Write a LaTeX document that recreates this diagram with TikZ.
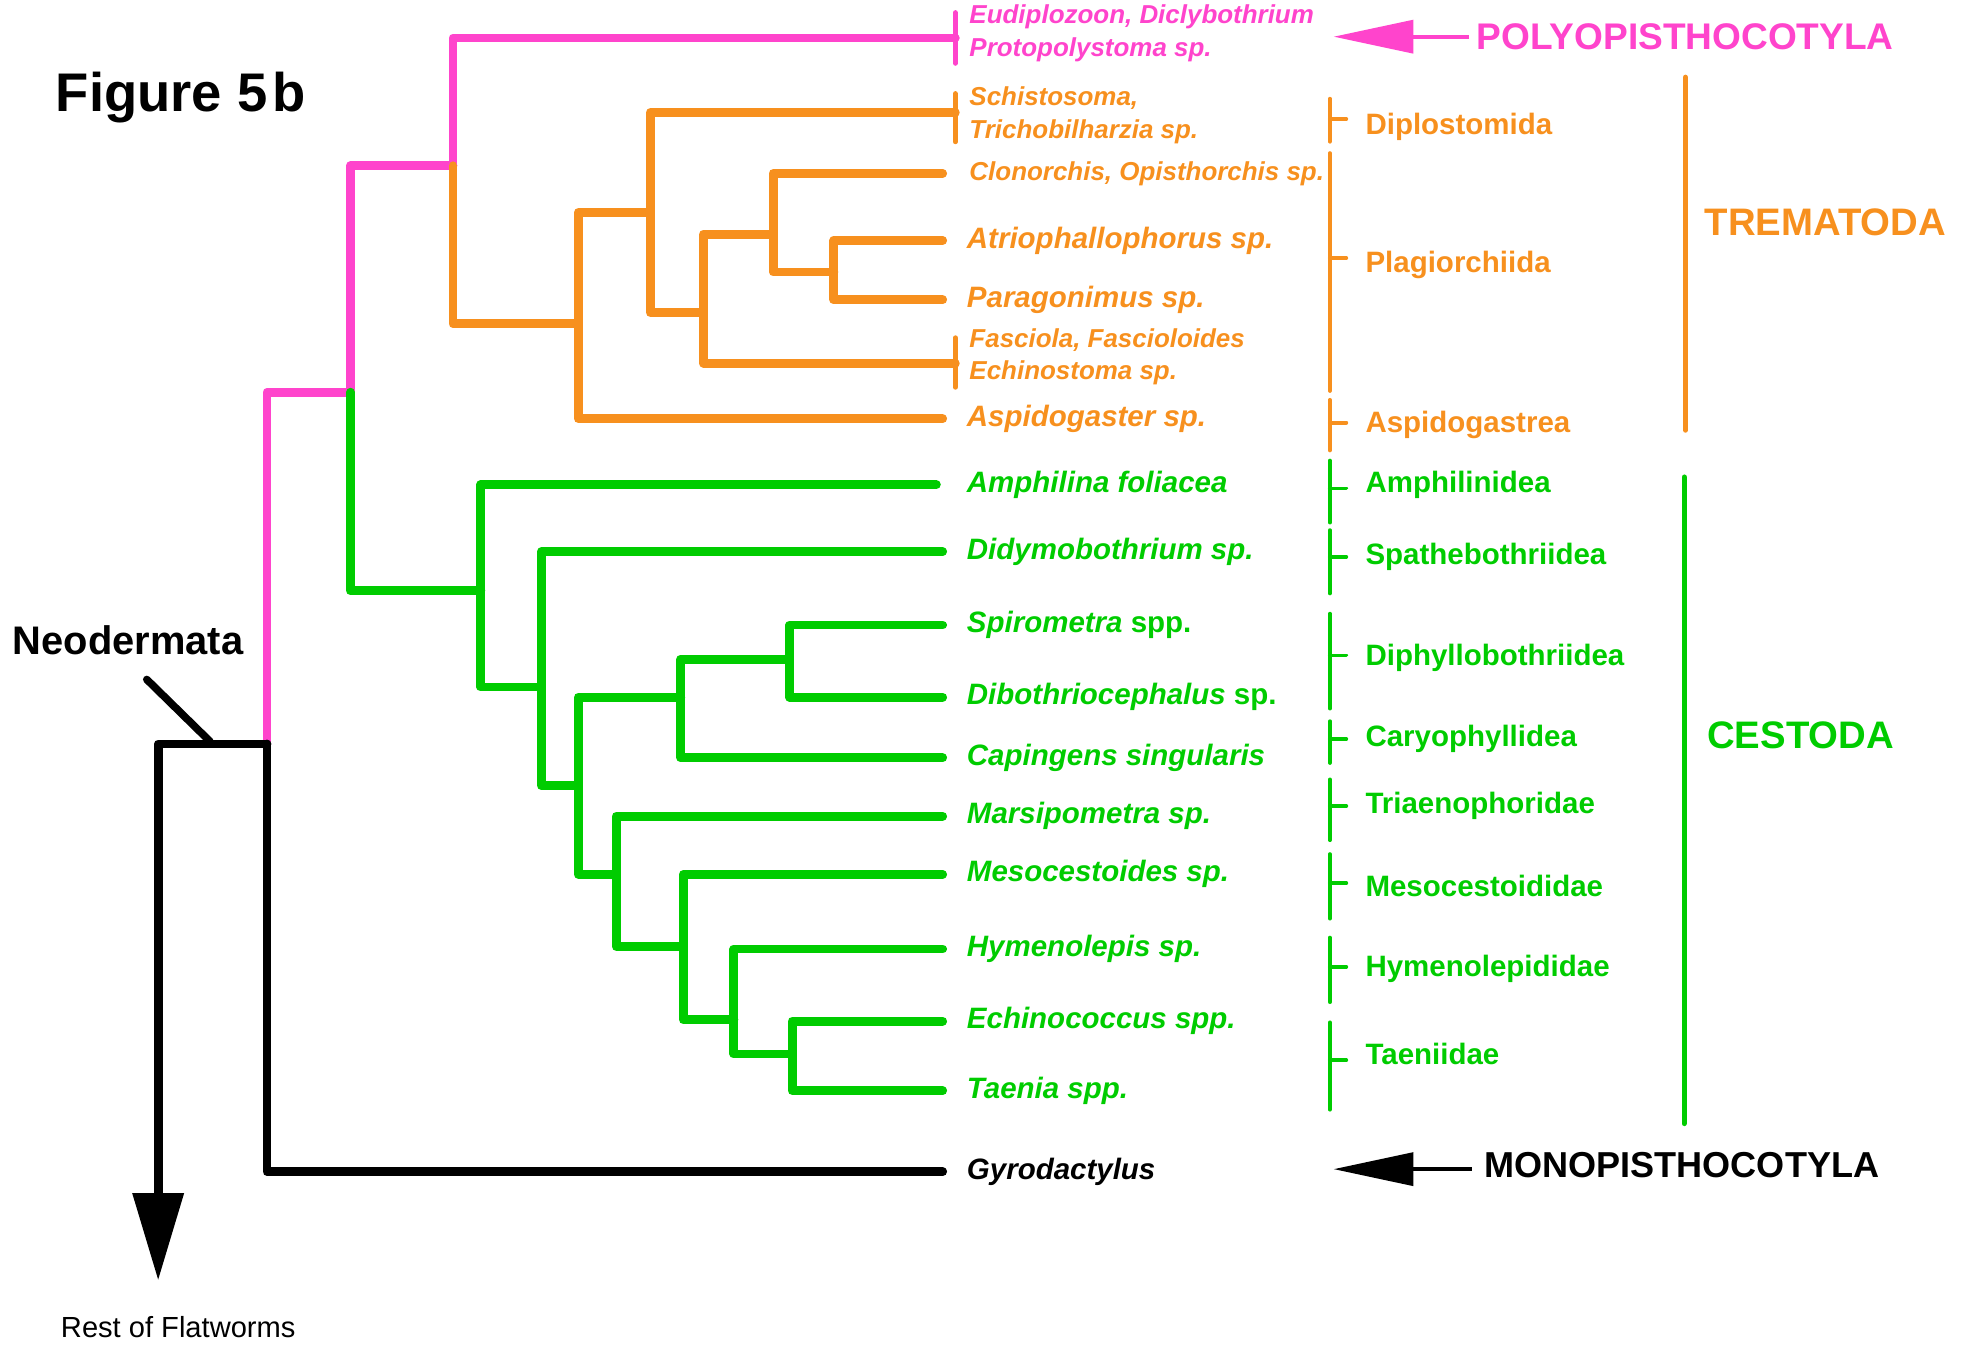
\documentclass[tikz,border=0pt]{standalone}
\usepackage{fontspec}
\setmainfont{Liberation Sans}
\usetikzlibrary{positioning, arrows.meta}

\definecolor{polypink}{RGB}{255,68,204}
\definecolor{tremorange}{RGB}{247,144,30}
\definecolor{cestgreen}{RGB}{0,204,0}

\tikzset{
  branch/.style={line width=7pt, line cap=round, line join=round},
  endbar/.style={line width=4pt, line cap=round},
  ordbar/.style={line width=3pt, line cap=round},
  taxon/.style={inner sep=0pt, font=\fontsize{23.3pt}{27pt}\selectfont\bfseries\itshape},
  smalltaxon/.style={inner sep=0pt, align=left, font=\fontsize{20.5pt}{26pt}\selectfont\bfseries\itshape},
  order/.style={inner sep=0pt, font=\fontsize{23.3pt}{27pt}\selectfont\bfseries},
  clade/.style={inner sep=0pt, font=\fontsize{30.3pt}{34pt}\selectfont\bfseries},
}

\begin{document}
\begin{tikzpicture}[x=1pt, y=-1pt]
\useasboundingbox (0,0) rectangle (1568,1067);

% inner nodes of the tree
\coordinate (stem) at (125,588);
\coordinate (N) at (211,588);
\coordinate (P) at (277,310);
\coordinate (Q) at (358,131);
\coordinate (T) at (457,256);
\coordinate (T1) at (514,168);
\coordinate (T2) at (556,247);
\coordinate (T3) at (611,185);
\coordinate (T4) at (659,215);
\coordinate (C) at (380,467);
\coordinate (C1) at (428,543);
\coordinate (C2) at (457,621);
\coordinate (C3) at (538,551);
\coordinate (C5) at (624,521);
\coordinate (C4) at (487,691);
\coordinate (C6) at (540,748);
\coordinate (C7) at (580,806);
\coordinate (C8) at (626,833);
\coordinate (rest) at (125,1012);

% leaves
\coordinate (l-eud) at (755,30);
\coordinate (l-schis) at (755,89);
\coordinate (l-clon) at (745,137);
\coordinate (l-atrio) at (745,190);
\coordinate (l-parag) at (745,237);
\coordinate (l-fasc) at (755,287);
\coordinate (l-aspi) at (745,331);
\coordinate (l-amph) at (740,383);
\coordinate (l-didy) at (745,436);
\coordinate (l-spir) at (745,494);
\coordinate (l-dibo) at (745,551);
\coordinate (l-capi) at (745,599);
\coordinate (l-mars) at (745,645);
\coordinate (l-meso) at (745,691);
\coordinate (l-hyme) at (745,750);
\coordinate (l-echi) at (745,807);
\coordinate (l-taen) at (745,862);
\coordinate (l-gyro) at (745,926);

% branches
\draw[branch, polypink] (N) |- (P) (P) |- (Q) (Q) |- (l-eud);
\draw[branch] (N) |- (l-gyro);
\draw[branch, -{Triangle[length=69pt,width=39pt]}] (N) -- (stem) -- (rest);
\draw[branch, tremorange] (Q) |- (T) (T) |- (T1) (T) |- (l-aspi)
    (T1) |- (l-schis) (T1) |- (T2) (T2) |- (T3) (T2) |- (l-fasc)
    (T3) |- (l-clon) (T3) |- (T4) (T4) |- (l-atrio) (T4) |- (l-parag);
\draw[branch, cestgreen] (P) |- (C) (C) |- (l-amph) (C) |- (C1)
    (C1) |- (l-didy) (C1) |- (C2) (C2) |- (C3) (C2) |- (C4)
    (C3) |- (C5) (C3) |- (l-capi) (C5) |- (l-spir) (C5) |- (l-dibo)
    (C4) |- (l-mars) (C4) |- (C6) (C6) |- (l-meso) (C6) |- (C7)
    (C7) |- (l-hyme) (C7) |- (C8) (C8) |- (l-echi) (C8) |- (l-taen);

% bars at the ends of grouped leaves
\draw[endbar, polypink] ([yshift=20pt]l-eud) -- ([yshift=-20pt]l-eud);
\draw[endbar, tremorange] ([yshift=15pt]l-schis) -- ([yshift=-23pt]l-schis);
\draw[endbar, tremorange] ([yshift=20pt]l-fasc) -- ([yshift=-19pt]l-fasc);

% leaf labels
\node[smalltaxon, polypink, right=11pt of l-eud, yshift=3.5pt] (t-eud)
    {Eudiplozoon, Diclybothrium\\Protopolystoma sp.};
\node[smalltaxon, tremorange, right=11pt of l-schis, yshift=-2pt] (t-schis)
    {Schistosoma,\\Trichobilharzia sp.};
\node[smalltaxon, tremorange, right=21pt of l-clon] (t-clon)
    {Clonorchis, Opisthorchis sp.};
\node[taxon, tremorange, right=19pt of l-atrio] (t-atrio) {Atriophallophorus sp.};
\node[taxon, tremorange, right=19pt of l-parag] (t-parag) {Paragonimus sp.};
\node[smalltaxon, tremorange, right=11pt of l-fasc, yshift=5pt] (t-fasc)
    {Fasciola, Fascioloides\\Echinostoma sp.};
\node[taxon, tremorange, right=19pt of l-aspi] (t-aspi) {Aspidogaster sp.};
\node[taxon, cestgreen, right=24pt of l-amph] (t-amph) {Amphilina foliacea};
\node[taxon, cestgreen, right=19pt of l-didy] (t-didy) {Didymobothrium sp.};
\node[taxon, cestgreen, right=19pt of l-spir] (t-spir) {Spirometra \textup{spp.}};
\node[taxon, cestgreen, right=19pt of l-dibo] (t-dibo) {Dibothriocephalus \textup{sp.}};
\node[taxon, cestgreen, right=19pt of l-capi] (t-capi) {Capingens singularis};
\node[taxon, cestgreen, right=19pt of l-mars] (t-mars) {Marsipometra sp.};
\node[taxon, cestgreen, right=19pt of l-meso] (t-meso) {Mesocestoides sp.};
\node[taxon, cestgreen, right=19pt of l-hyme] (t-hyme) {Hymenolepis sp.};
\node[taxon, cestgreen, right=19pt of l-echi] (t-echi) {Echinococcus spp.};
\node[taxon, cestgreen, right=19pt of l-taen] (t-taen) {Taenia spp.};
\node[taxon, right=19pt of l-gyro] (t-gyro) {Gyrodactylus};

% order brackets
\coordinate (o-dipl) at (1064,94);
\coordinate (o-plag) at (1064,204);
\coordinate (o-aspi) at (1064,334);
\coordinate (o-amph) at (1064,386);
\coordinate (o-spat) at (1064,440);
\coordinate (o-diph) at (1064,518);
\coordinate (o-cary) at (1064,584);
\coordinate (o-tria) at (1064,637);
\coordinate (o-meso) at (1064,698);
\coordinate (o-hyme) at (1064,764);
\coordinate (o-taen) at (1064,838);
\draw[ordbar, tremorange] (1051,78) -- (1051,112) (1051,94) -- (o-dipl);
\draw[ordbar, tremorange] (1051,121) -- (1051,309) (1051,204) -- (o-plag);
\draw[ordbar, tremorange] (1051,316) -- (1051,356) (1051,334) -- (o-aspi);
\draw[ordbar, cestgreen] (1051,364) -- (1051,413) (1051,386) -- (o-amph);
\draw[ordbar, cestgreen] (1051,419) -- (1051,469) (1051,440) -- (o-spat);
\draw[ordbar, cestgreen] (1051,485) -- (1051,560) (1051,518) -- (o-diph);
\draw[ordbar, cestgreen] (1051,570) -- (1051,603) (1051,584) -- (o-cary);
\draw[ordbar, cestgreen] (1051,616) -- (1051,664) (1051,637) -- (o-tria);
\draw[ordbar, cestgreen] (1051,675) -- (1051,726) (1051,698) -- (o-meso);
\draw[ordbar, cestgreen] (1051,741) -- (1051,792) (1051,764) -- (o-hyme);
\draw[ordbar, cestgreen] (1051,808) -- (1051,877) (1051,838) -- (o-taen);
\node[order, tremorange, right=15pt of o-dipl, yshift=-6pt] (d-dipl) {Diplostomida};
\node[order, tremorange, right=15pt of o-plag, yshift=-5pt] (d-plag) {Plagiorchiida};
\node[order, tremorange, right=15pt of o-aspi, yshift=-2pt] (d-aspi) {Aspidogastrea};
\node[order, cestgreen, right=15pt of o-amph, yshift=3pt] (d-amph) {Amphilinidea};
\node[order, cestgreen, right=15pt of o-spat] (d-spat) {Spathebothriidea};
\node[order, cestgreen, right=15pt of o-diph, yshift=-2pt] (d-diph) {Diphyllobothriidea};
\node[order, cestgreen, right=15pt of o-cary] (d-cary) {Caryophyllidea};
\node[order, cestgreen, right=15pt of o-tria] (d-tria) {Triaenophoridae};
\node[order, cestgreen, right=15pt of o-meso, yshift=-2pt] (d-meso) {Mesocestoididae};
\node[order, cestgreen, right=15pt of o-hyme, yshift=-2pt] (d-hyme) {Hymenolepididae};
\node[order, cestgreen, right=15pt of o-taen, yshift=5pt] (d-taen) {Taeniidae};

% classes
\draw[endbar, tremorange] (1332,61) -- (1332,340);
\draw[endbar, cestgreen] (1331,377) -- (1331,888);
\node[clade, tremorange, anchor=west] (trem) at (1347,176) {TREMATODA};
\node[clade, cestgreen, anchor=west] (cest) at (1349,581) {CESTODA};
\node[clade, polypink, anchor=west, font=\fontsize{29.3pt}{34pt}\selectfont\bfseries]
    (poly) at (1167,29) {POLYOPISTHOCOTYLA};
\node[clade, anchor=west, font=\fontsize{28.5pt}{34pt}\selectfont\bfseries] (mono)
    at (1173,921) {MONOPISTHOCOTYLA};
\coordinate (poly-tip) at (1054,29);
\coordinate (mono-tip) at (1054,924);
\draw[ordbar, polypink, line cap=butt, -{Triangle[length=63pt,width=26pt]}]
    ([xshift=-6pt]poly.west) -- (poly-tip);
\draw[ordbar, line cap=butt, -{Triangle[length=63pt,width=26pt]}]
    ([xshift=-10pt,yshift=-3pt]mono.west) -- (mono-tip);

% titles
\node[anchor=base west, inner sep=0pt, font=\fontsize{43pt}{50pt}\selectfont\bfseries]
    (fig) at (44,88) {Figure 5\kern4pt b};
\node[anchor=base west, inner sep=0pt, font=\fontsize{31.5pt}{36pt}\selectfont\bfseries]
    (neo) at (10,517) {Neodermata};
\coordinate (neo-from) at (116,537);
\coordinate (neo-to) at (166,586);
\draw[line width=6pt, line cap=round] (neo-from) -- (neo-to);
\node[anchor=base west, inner sep=0pt, font=\fontsize{23pt}{27pt}\selectfont]
    (restlabel) at (48,1057) {Rest of Flatworms};
\end{tikzpicture}
\end{document}
